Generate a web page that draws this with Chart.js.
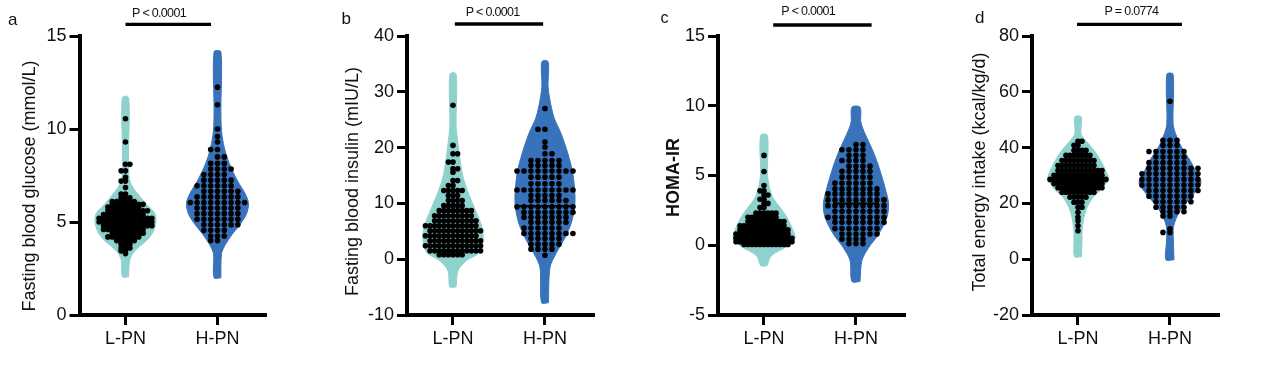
<!DOCTYPE html>
<html><head><meta charset="utf-8">
<script src="https://cdn.jsdelivr.net/npm/chart.js@4.4.1/dist/chart.umd.min.js"></script>
<style>
html,body{margin:0;padding:0;background:#fff;width:1270px;height:374px;overflow:hidden}
canvas{position:absolute;top:0}
</style></head>
<body>
<canvas id="ca" width="315" height="374" style="left:0px"></canvas>
<canvas id="cb" width="315" height="374" style="left:320px"></canvas>
<canvas id="cc" width="315" height="374" style="left:640px"></canvas>
<canvas id="cd" width="315" height="374" style="left:950px"></canvas>
<script>
const categories = ['L-PN', 'H-PN'];

// ---------- a: Fasting blood glucose ----------
const glcTicks = [0, 5, 10, 15];
const glcL_vy = [2.05, 2.9, 3.3, 3.6, 4.0, 4.5, 5.0, 5.45, 6.0, 6.5, 7.0, 7.5, 9.0, 11.7];
const glcL_vd = [0.10, 0.13, 0.23, 0.39, 0.68, 0.90, 0.98, 0.95, 0.65, 0.40, 0.19, 0.11, 0.10, 0.10];
const glcH_vy = [2.0, 3.3, 3.8, 4.35, 4.9, 5.45, 6.0, 6.5, 7.2, 8.15, 9.0, 9.9, 11.0, 14.15];
const glcH_vd = [0.11, 0.13, 0.26, 0.48, 0.74, 0.94, 1.0, 0.90, 0.65, 0.38, 0.22, 0.13, 0.11, 0.11];
const glcL_rowY = [10.55, 9.3, 8.1, 7.75, 7.4, 7.2, 6.85, 6.5, 6.3, 6.1, 5.95, 5.8, 5.6, 5.4, 5.2, 5.0, 4.8, 4.6, 4.4, 4.2, 4.0, 3.8, 3.6, 3.45, 3.3];
const glcL_rowN = [1, 1, 2, 2, 1, 2, 1, 2, 3, 6, 8, 8, 10, 10, 13, 13, 12, 10, 8, 8, 5, 3, 3, 2, 1];
const glcH_rowY = [12.25, 11.3, 10.0, 9.6, 9.3, 8.9, 8.5, 8.15, 7.85, 7.55, 7.25, 6.95, 6.65, 6.35, 6.05, 5.75, 5.45, 5.15, 4.85, 4.55, 4.25, 4.0];
const glcH_rowN = [1, 1, 1, 1, 1, 2, 2, 3, 4, 4, 5, 6, 6, 7, 9, 7, 7, 7, 6, 4, 3, 2];

// ---------- b: Fasting blood insulin ----------
const insTicks = [-10, 0, 10, 20, 30, 40];
const insL_vy = [-4.96, -2.1, -0.3, 1.15, 3.3, 5.65, 8.7, 11.8, 14.6, 17.7, 20.7, 24, 33.2];
const insL_vd = [0.10, 0.16, 0.42, 0.84, 0.97, 0.94, 0.73, 0.50, 0.33, 0.23, 0.16, 0.10, 0.10];
const insH_vy = [-7.8, -1.5, 0.97, 3.9, 6.9, 10.5, 15.3, 18.9, 22.5, 25.4, 28.5, 31, 35.4];
const insH_vd = [0.11, 0.16, 0.35, 0.65, 0.87, 0.97, 0.90, 0.74, 0.52, 0.29, 0.16, 0.10, 0.10];
const insL_rowY = [27.6, 20.4, 18.9, 17.4, 16.2, 15.6, 14.1, 13.2, 12.3, 11.4, 10.5, 9.6, 8.7, 7.8, 6.9, 6.0, 5.1, 4.2, 3.3, 2.4, 1.5, 0.8];
const insL_rowN = [1, 1, 2, 2, 2, 1, 2, 2, 5, 3, 4, 5, 8, 9, 10, 12, 12, 12, 12, 13, 12, 6];
const insH_rowY = [27.0, 23.3, 21.0, 20.1, 18.9, 17.7, 16.8, 15.8, 14.7, 13.5, 12.4, 11.4, 10.5, 9.4, 8.4, 7.5, 6.6, 5.6, 4.6, 3.7, 2.7, 1.8, 0.7];
const insH_rowN = [1, 2, 1, 1, 2, 5, 5, 9, 5, 5, 9, 5, 6, 9, 8, 7, 6, 6, 8, 5, 5, 4, 1];
const insH_median = 9.5;

// ---------- c: HOMA-IR ----------
const homTicks = [-5, 0, 5, 10, 15];
const homL_vy = [-1.47, -0.75, -0.04, 0.54, 1.26, 2.0, 2.7, 3.4, 4.1, 5.1, 7.88];
const homL_vd = [0.10, 0.24, 0.77, 1.0, 0.90, 0.74, 0.52, 0.29, 0.18, 0.11, 0.11];
const homH_vy = [-2.6, -1.1, -0.2, 0.8, 2.0, 3.0, 4.1, 5.6, 6.8, 8.0, 8.8, 9.9];
const homH_vd = [0.13, 0.19, 0.40, 0.73, 1.0, 1.05, 0.94, 0.74, 0.54, 0.29, 0.16, 0.13];
const homL_rowY = [6.44, 5.29, 4.28, 3.9, 3.6, 3.3, 3.0, 2.7, 2.3, 2.0, 1.7, 1.4, 1.1, 0.8, 0.5, 0.25, 0.05];
const homL_rowN = [1, 1, 1, 2, 2, 2, 2, 2, 6, 8, 10, 12, 13, 14, 15, 15, 12];
const homH_rowY = [7.22, 6.85, 6.45, 6.08, 5.67, 5.31, 4.88, 4.45, 4.04, 3.68, 3.25, 2.84, 2.43, 2.0, 1.64, 1.2, 0.8, 0.44, 0.12];
const homH_rowN = [2, 4, 3, 4, 4, 5, 5, 6, 7, 8, 9, 9, 8, 9, 8, 7, 6, 4, 3];
const homH_median = 3.0;

// ---------- d: Total energy intake ----------
const engTicks = [-20, 0, 20, 40, 60, 80];
const engL_vy = [0.9, 6.6, 10.2, 14.9, 18.5, 22.1, 25.7, 29.3, 31.8, 35.4, 39, 42.6, 45, 51];
const engL_vd = [0.11, 0.13, 0.13, 0.19, 0.29, 0.48, 0.81, 0.97, 0.89, 0.73, 0.52, 0.24, 0.10, 0.10];
const engH_vy = [-0.2, 6.6, 11.3, 14.9, 18.5, 23.5, 27.5, 30.7, 35.4, 40, 45, 48.6, 66.3];
const engH_vd = [0.13, 0.11, 0.11, 0.21, 0.40, 0.77, 1.0, 0.86, 0.65, 0.38, 0.18, 0.10, 0.10];
const engL_rowY = [42.3, 40.8, 39.0, 37.2, 35.4, 33.6, 31.8, 30.1, 28.6, 27.1, 25.6, 24.0, 22.2, 20.4, 18.6, 16.8, 15.0, 13.8, 12.0, 10.2];
const engL_rowN = [2, 2, 4, 7, 9, 10, 12, 13, 15, 13, 12, 9, 5, 3, 2, 1, 1, 1, 1, 1];
const engH_rowY = [56.6, 42.6, 40.8, 38.6, 36.6, 34.6, 32.6, 30.6, 28.6, 26.6, 24.6, 22.6, 20.6, 18.6, 17.0, 15.5, 10.9, 9.6];
const engH_rowN = [1, 3, 3, 6, 5, 6, 8, 9, 9, 9, 8, 7, 6, 5, 4, 2, 1, 2];

// ---------- drawing helpers ----------
const TEAL = 'rgb(141,210,205)';
const BLUE = 'rgb(55,114,187)';
const FONT = '"Liberation Sans", Arial, Helvetica, sans-serif';
const PX_PER_UNIT = 92;
const K = 31 / PX_PER_UNIT;

function violinPts(center, ys, ds) {
  const pts = [];
  for (let i = 0; i < ys.length; i++) pts.push({x: center + ds[i] * K, y: ys[i]});
  for (let i = ys.length - 1; i >= 0; i--) pts.push({x: center - ds[i] * K, y: ys[i]});
  pts.push({x: pts[0].x, y: pts[0].y});
  return pts;
}
// dots of a row sit on a fixed column grid: 0, +1, -1, +2, -2 ... (side of the extra dot alternates per row)
function rowPts(center, rowY, rowN, sPx) {
  const s = sPx / PX_PER_UNIT, pts = [];
  rowY.forEach((y, i) => {
    const n = rowN[i], sign = (i % 2 === 0) ? 1 : -1;
    for (let j = 0; j < n; j++) {
      const k = j === 0 ? 0 : (j % 2 === 1 ? sign * Math.ceil(j / 2) : -sign * (j / 2));
      pts.push({x: center + k * s, y: y});
    }
  });
  return pts;
}

const annot = {
  id: 'annot',
  afterDraw(chart, args, o) {
    const ctx = chart.ctx, xs = chart.scales.x;
    ctx.save();
    ctx.fillStyle = '#111';
    // axis title (rotated)
    ctx.save();
    ctx.translate(o.titleX, o.titleY);
    ctx.rotate(-Math.PI / 2);
    ctx.textAlign = 'center';
    ctx.textBaseline = 'middle';
    ctx.font = (o.bold ? 'bold ' : '') + '18px ' + FONT;
    ctx.fillText(o.title, 0, 0);
    ctx.restore();
    // panel letter
    ctx.textBaseline = 'alphabetic';
    ctx.textAlign = 'left';
    ctx.font = o.letterSize + 'px ' + FONT;
    ctx.fillText(o.letter, o.letterX, o.letterY);
    // significance bar + p-value
    ctx.strokeStyle = '#000';
    ctx.lineWidth = 3.3;
    ctx.beginPath();
    ctx.moveTo(xs.getPixelForValue(o.bar[0]), o.barY);
    ctx.lineTo(xs.getPixelForValue(o.bar[1]), o.barY);
    ctx.stroke();
    ctx.font = '12.5px ' + FONT;
    try { ctx.letterSpacing = '-0.7px'; } catch (e) {}
    ctx.textAlign = 'center';
    ctx.fillText(o.p, xs.getPixelForValue(o.pX), o.pY);
    ctx.restore();
  }
};

const panels = [
  {id: 'ca', yw: 79.5, ticks: glcTicks,
   v: [[glcL_vy, glcL_vd], [glcH_vy, glcH_vd]], d: [[glcL_rowY, glcL_rowN, 4.4], [glcH_rowY, glcH_rowN, 6.8]], med: [],
   a: {title: 'Fasting blood glucose (mmol/L)', bold: false, titleX: 30, titleY: 186,
       letter: 'a', letterSize: 17, letterX: 8, letterY: 25, bar: [1.0, 1.93], barY: 24.3, p: 'P < 0.0001', pX: 1.364, pY: 17}},
  {id: 'cb', yw: 87, ticks: insTicks,
   v: [[insL_vy, insL_vd], [insH_vy, insH_vd]], d: [[insL_rowY, insL_rowN, 4.6], [insH_rowY, insH_rowN, 7.0]], med: [[2, insH_median, 0.3]],
   a: {title: 'Fasting blood insulin (mIU/L)', bold: false, titleX: 32.7, titleY: 181.5,
       letter: 'b', letterSize: 17, letterX: 21.5, letterY: 24, bar: [1.02, 1.98], barY: 24, p: 'P < 0.0001', pX: 1.43, pY: 15.5}},
  {id: 'cc', yw: 78, ticks: homTicks,
   v: [[homL_vy, homL_vd], [homH_vy, homH_vd]], d: [[homL_rowY, homL_rowN, 4.0], [homH_rowY, homH_rowN, 7.0]], med: [[2, homH_median, 0.25]],
   a: {title: 'HOMA-IR', bold: true, titleX: 34, titleY: 177.5,
       letter: 'c', letterSize: 16, letterX: 20.5, letterY: 23, bar: [1.1, 2.17], barY: 25, p: 'P < 0.0001', pX: 1.48, pY: 14.5}},
  {id: 'cd', yw: 82, ticks: engTicks,
   v: [[engL_vy, engL_vd], [engH_vy, engH_vd]], d: [[engL_rowY, engL_rowN, 4.0], [engH_rowY, engH_rowN, 7.0]], med: [],
   a: {title: 'Total energy intake (kcal/kg/d)', bold: false, titleX: 30, titleY: 172,
       letter: 'd', letterSize: 17, letterX: 25, letterY: 23, bar: [0.99, 2.13], barY: 24.3, p: 'P = 0.0774', pX: 1.58, pY: 14.5}}
];

panels.forEach(P => {
  const datasets = [];
  P.d.forEach((g, i) => {
    datasets.push({type: 'scatter', data: rowPts(i + 1, g[0], g[1], g[2]), pointRadius: 2.8, pointHoverRadius: 2.8,
      backgroundColor: '#000', borderWidth: 0, order: 0, clip: false});
  });
  P.med.forEach(m => {
    datasets.push({type: 'line', data: [{x: m[0] - m[2], y: m[1]}, {x: m[0] + m[2], y: m[1]}], borderColor: '#000',
      borderWidth: 2, pointRadius: 0, fill: false, order: 1, clip: false});
  });
  P.v.forEach((g, i) => {
    datasets.push({type: 'line', data: violinPts(i + 1, g[0], g[1]), backgroundColor: i === 0 ? TEAL : BLUE,
      borderColor: i === 0 ? TEAL : BLUE, borderWidth: 1, pointRadius: 0, tension: 0.3, fill: 'shape', order: 2, clip: false});
  });
  const yMin = P.ticks[0], yMax = P.ticks[P.ticks.length - 1], step = P.ticks[1] - P.ticks[0];
  new Chart(document.getElementById(P.id), {
    type: 'scatter',
    data: {datasets},
    plugins: [annot],
    options: {
      responsive: false, animation: false, devicePixelRatio: 1,
      layout: {padding: {left: 0, top: 36, right: 315 - P.yw - 187, bottom: 0}},
      plugins: {legend: {display: false}, tooltip: {enabled: false}, annot: P.a},
      scales: {
        x: {type: 'linear', min: 0.5, max: 2.533,
          afterBuildTicks: s => { s.ticks = [{value: 1}, {value: 2}]; },
          afterFit: s => { s.height = 59; },
          ticks: {callback: v => categories[Math.round(v) - 1], color: '#111', font: {family: FONT, size: 18}, padding: 3, maxRotation: 0, autoSkip: false},
          grid: {drawOnChartArea: false, drawTicks: true, tickLength: 10, tickWidth: 3, tickColor: '#000'},
          border: {display: true, width: 4, color: '#000'}
        },
        y: {type: 'linear', min: yMin, max: yMax,
          afterBuildTicks: s => { s.ticks = P.ticks.map(v => ({value: v})); },
          afterFit: s => { s.width = P.yw; },
          ticks: {stepSize: step, color: '#111', font: {family: FONT, size: 18}, padding: 3},
          grid: {drawOnChartArea: false, drawTicks: true, tickLength: 10, tickWidth: 3, tickColor: '#000'},
          border: {display: true, width: 4, color: '#000'}
        }
      }
    }
  });
});
</script>
</body></html>
